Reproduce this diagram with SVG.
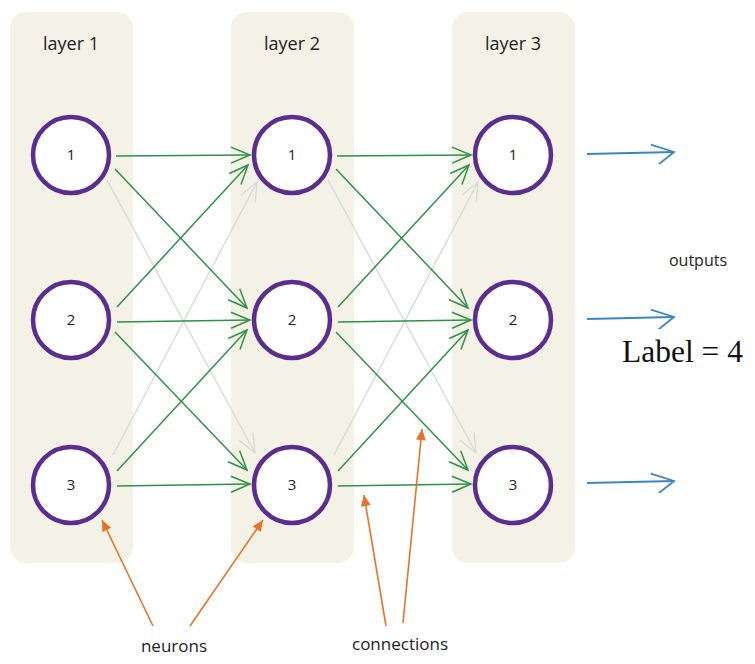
<svg xmlns="http://www.w3.org/2000/svg" width="755" height="664" viewBox="0 0 755 664">
  <style>
    .panel { fill: #f4f2e7; }
    .hand { font-family: "Open Sans", "DejaVu Sans", sans-serif; fill: #222; }
    .lbl { font-size: 18px; text-anchor: middle; }
    .num { font-size: 15px; text-anchor: middle; }
    .neuron { fill: #ffffff; stroke: #5a2d8f; stroke-width: 4.5; }
    .conn { stroke: #2f9147; stroke-width: 1.5; fill: none; marker-end: url(#gh); }
    .faint { stroke: #d4ddd4; stroke-width: 1.4; fill: none; marker-end: url(#fh); }
    .out { stroke: #3a86c4; stroke-width: 1.8; fill: none; marker-end: url(#bh); }
    .note { stroke: #e8722a; stroke-width: 1.6; fill: none; marker-end: url(#oh); }
  </style>
  <defs>
    <marker id="gh" viewBox="-22 -10 24 20" refX="0" refY="0" markerWidth="24" markerHeight="20" markerUnits="userSpaceOnUse" orient="auto">
      <path d="M-19,-8 L0,0 L-19,8" fill="none" stroke="#2f9147" stroke-width="1.5"/>
    </marker>
    <marker id="fh" viewBox="-22 -10 24 20" refX="0" refY="0" markerWidth="24" markerHeight="20" markerUnits="userSpaceOnUse" orient="auto">
      <path d="M-19,-8 L0,0 L-19,8" fill="none" stroke="#d4ddd4" stroke-width="1.4"/>
    </marker>
    <marker id="bh" viewBox="-26 -12 28 24" refX="0" refY="0" markerWidth="28" markerHeight="24" markerUnits="userSpaceOnUse" orient="auto">
      <path d="M-23,-8 L0,0 L-17,13" fill="none" stroke="#3a86c4" stroke-width="1.8"/>
    </marker>
    <marker id="oh" viewBox="-12 -6 13 12" refX="0" refY="0" markerWidth="13" markerHeight="12" markerUnits="userSpaceOnUse" orient="auto">
      <path d="M-11,-5 L0,0 L-11,5 Z" fill="#e8722a"/>
    </marker>
  </defs>

  <rect width="755" height="664" fill="#ffffff"/>

  <g id="layer1">
    <rect class="panel" x="10" y="12" width="123" height="551" rx="16"/>
    <text class="hand lbl" x="71" y="50">layer 1</text>
  </g>
  <g id="layer2">
    <rect class="panel" x="231" y="12" width="123" height="551" rx="16"/>
    <text class="hand lbl" x="292" y="50">layer 2</text>
  </g>
  <g id="layer3">
    <rect class="panel" x="452" y="12" width="123" height="551" rx="16"/>
    <text class="hand lbl" x="513" y="50">layer 3</text>
  </g>

  <g id="connectors">
    <!-- layer 1 to layer 2 -->
    <path class="faint" d="M107,180 L255,453"/>
    <path class="faint" d="M113,455 L257,182"/>
    <path class="conn" d="M116,156 L250,155"/>
    <path class="conn" d="M115,169 L247,308"/>
    <path class="conn" d="M117,307 L248,165"/>
    <path class="conn" d="M117,322 L250,320"/>
    <path class="conn" d="M115,332 L247,470"/>
    <path class="conn" d="M117,471 L247,330"/>
    <path class="conn" d="M117,486 L250,484"/>
    <!-- layer 2 to layer 3 -->
    <path class="faint" d="M328,180 L476,453"/>
    <path class="faint" d="M334,455 L478,182"/>
    <path class="conn" d="M337,156 L471,155"/>
    <path class="conn" d="M336,169 L468,308"/>
    <path class="conn" d="M338,307 L469,165"/>
    <path class="conn" d="M338,322 L471,320"/>
    <path class="conn" d="M336,332 L468,470"/>
    <path class="conn" d="M338,471 L468,330"/>
    <path class="conn" d="M338,486 L471,484"/>
    <!-- outputs -->
    <path class="out" d="M587,154 L674,152"/>
    <path class="out" d="M587,319 L674,317"/>
    <path class="out" d="M587,483 L674,481"/>
    <!-- annotations -->
    <path class="note" d="M153,626 L102,520"/>
    <path class="note" d="M190,626 L263,520"/>
    <path class="note" d="M386,626 L364,495"/>
    <path class="note" d="M403,623 L422,429"/>
  </g>

  <g id="n1_1"><circle class="neuron" cx="71" cy="155" r="38"/><text class="hand num" x="71" y="160">1</text></g>
  <g id="n1_2"><circle class="neuron" cx="71" cy="320" r="38"/><text class="hand num" x="71" y="325">2</text></g>
  <g id="n1_3"><circle class="neuron" cx="71" cy="485" r="38"/><text class="hand num" x="71" y="490">3</text></g>
  <g id="n2_1"><circle class="neuron" cx="292" cy="155" r="38"/><text class="hand num" x="292" y="160">1</text></g>
  <g id="n2_2"><circle class="neuron" cx="292" cy="320" r="38"/><text class="hand num" x="292" y="325">2</text></g>
  <g id="n2_3"><circle class="neuron" cx="292" cy="485" r="38"/><text class="hand num" x="292" y="490">3</text></g>
  <g id="n3_1"><circle class="neuron" cx="513" cy="155" r="38"/><text class="hand num" x="513" y="160">1</text></g>
  <g id="n3_2"><circle class="neuron" cx="513" cy="320" r="38"/><text class="hand num" x="513" y="325">2</text></g>
  <g id="n3_3"><circle class="neuron" cx="513" cy="485" r="38"/><text class="hand num" x="513" y="490">3</text></g>

  <g id="outputs-label"><text class="hand" x="698" y="266" font-size="16" text-anchor="middle">outputs</text></g>
  <g id="label-text"><text x="622" y="362" font-family="'Liberation Serif', 'Times New Roman', serif" font-size="31.5" fill="#111">Label = 4</text></g>
  <g id="neurons-label"><text class="hand" x="174" y="652" font-size="17" text-anchor="middle">neurons</text></g>
  <g id="connections-label"><text class="hand" x="400" y="650" font-size="17" text-anchor="middle">connections</text></g>
</svg>
